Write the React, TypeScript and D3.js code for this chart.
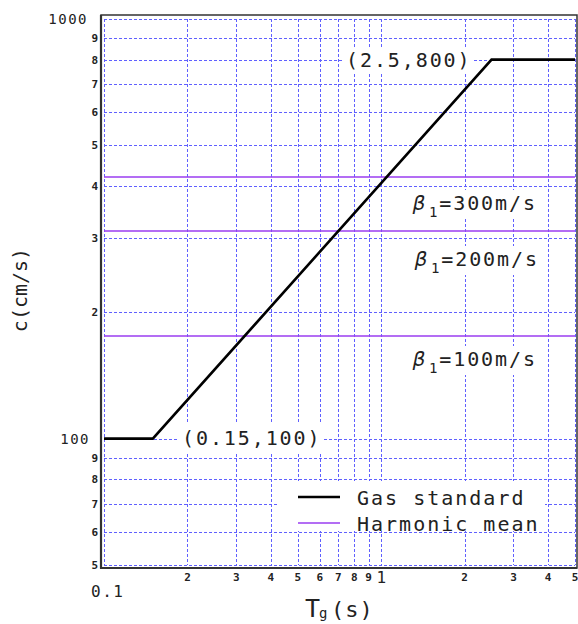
import React from "react";
import * as d3 from "d3";

const gasX = [0.1, 0.15, 2.5, 5];
const gasY = [100, 100, 800, 800];
const harmonicValues = [176, 312, 420];
const harmonicLabels = ["=100m/s", "=200m/s", "=300m/s"];
const xGrid = [0.1, 0.2, 0.3, 0.4, 0.5, 0.6, 0.7, 0.8, 0.9, 1, 2, 3, 4, 5];
const yGrid = [50, 60, 70, 80, 90, 100, 200, 300, 400, 500, 600, 700, 800, 900, 1000];
const xMinorLabels = [0.2, 0.3, 0.4, 0.5, 0.6, 0.7, 0.8, 0.9, 2, 3, 4, 5];
const yMinorLabels = [50, 60, 70, 80, 90, 200, 300, 400, 500, 600, 700, 800, 900];
const yMajorLabels = [100, 1000];

const W = 578;
const H = 624;
const FONT = "'DejaVu Sans Mono', monospace";

export default function App() {
  const x = d3.scaleLog().domain([0.1, 5]).range([104, 575]);
  const y = d3.scaleLog().domain([50, 1000]).range([565, 19]);
  const px = (v: number) => Math.round(x(v)) + 0.5;
  const py = (v: number) => Math.round(y(v)) + 0.5;
  const line = d3
    .line<number>()
    .x((_, i) => x(gasX[i]))
    .y((d) => y(d));
  const gridColor = "#6060ff";
  const purple = "#9a3cf0";
  const txt = "#222";
  const minorLabel = (v: number) => {
    const s = String(v);
    return s.startsWith("0.") ? s.slice(2) : s[0];
  };
  const betaPos = [
    { x: 413, base: 366, bg: [408, 346, 140, 29] },
    { x: 415, base: 266, bg: [408, 246, 140, 29] },
    { x: 413, base: 210, bg: [408, 190, 140, 29] },
  ];
  return (
    <svg
      width={W}
      height={H}
      style={{ position: "absolute", left: 0, top: 0, background: "#fff" }}
      fontFamily={FONT}
    >
      {/* grid */}
      <g stroke={gridColor} strokeWidth={1} strokeDasharray="3,2" shapeRendering="crispEdges">
        {xGrid.map((v) => (
          <line key={"gx" + v} x1={px(v)} x2={px(v)} y1={y(1000)} y2={y(50)} />
        ))}
        {yGrid.map((v) => (
          <line key={"gy" + v} x1={x(0.1)} x2={x(5)} y1={py(v)} y2={py(v)} />
        ))}
      </g>
      {/* white label backgrounds */}
      <g fill="#fff">
        <rect x={344} y={47} width={129} height={27} />
        <rect x={177} y={423} width={146} height={31} />
        {betaPos.map((b, i) => (
          <rect key={"bb" + i} x={b.bg[0]} y={b.bg[1]} width={b.bg[2]} height={b.bg[3]} />
        ))}
        <rect x={277} y={481} width={268} height={50} />
      </g>
      {/* frame */}
      <rect x={101} y={15} width={476} height={553} fill="none" stroke="#333" strokeWidth={1.5} />
      <line x1={101} x2={101} y1={15} y2={568.5} stroke="#333" strokeWidth={2.2} />
      <line x1={100} x2={577} y1={568} y2={568} stroke="#333" strokeWidth={2.2} />
      {/* harmonic mean lines */}
      {harmonicValues.map((v) => (
        <line key={"h" + v} x1={x(0.1)} x2={x(5)} y1={Math.round(y(v))} y2={Math.round(y(v))} stroke={purple} strokeWidth={1.5} />
      ))}
      {/* gas standard */}
      <path d={line(gasY) || ""} fill="none" stroke="#000" strokeWidth={2.6} strokeLinejoin="miter" />
      {/* y tick labels */}
      <g fill={txt}>
        {yMajorLabels.map((v) => (
          <text key={"ym" + v} x={v === 1000 ? 88 : 90} y={y(v) + 5} fontSize={14} textAnchor="end" letterSpacing={1.5}>
            {v}
          </text>
        ))}
        {yMinorLabels.map((v) => (
          <text key={"yn" + v} x={98} y={y(v) + 4} fontSize={11} textAnchor="end" fontWeight="bold">
            {minorLabel(v)}
          </text>
        ))}
        {xMinorLabels.map((v) => (
          <text key={"xn" + v} x={x(v)} y={581} fontSize={11} textAnchor="middle" fontWeight="bold">
            {minorLabel(v)}
          </text>
        ))}
        <text x={x(1)} y={583} fontSize={16} textAnchor="middle">1</text>
        <text x={91} y={597} fontSize={16} letterSpacing={1.5}>0.1</text>
      </g>
      {/* axis titles */}
      <g fill={txt}>
        <text x={305} y={617} fontSize={25}>T</text>
        <text x={319} y={618} fontSize={14}>g</text>
        <text x={331} y={617} fontSize={22} letterSpacing={1}>(s)</text>
        <text transform="translate(27,290) rotate(-90)" fontSize={20} textAnchor="middle">c(cm/s)</text>
      </g>
      {/* annotations */}
      <g fill={txt} fontSize={20} letterSpacing={1.9}>
        <text x={346} y={67}>(2.5,800)</text>
        <text x={182} y={445}>(0.15,100)</text>
        {betaPos.map((b, i) => (
          <text key={"bt" + i} x={b.x} y={b.base}>
            <tspan fontStyle="italic">β</tspan>
            <tspan fontSize={14} dy={7} dx={2}>1</tspan>
            <tspan dy={-7}>{harmonicLabels[i]}</tspan>
          </text>
        ))}
      </g>
      {/* legend */}
      <line x1={298} x2={340} y1={497} y2={497} stroke="#000" strokeWidth={2.6} />
      <line x1={298} x2={340} y1={523} y2={523} stroke={purple} strokeWidth={1.5} />
      <g fill={txt} fontSize={20} letterSpacing={2}>
        <text x={357} y={505}>Gas standard</text>
        <text x={357} y={531}>Harmonic mean</text>
      </g>
    </svg>
  );
}
